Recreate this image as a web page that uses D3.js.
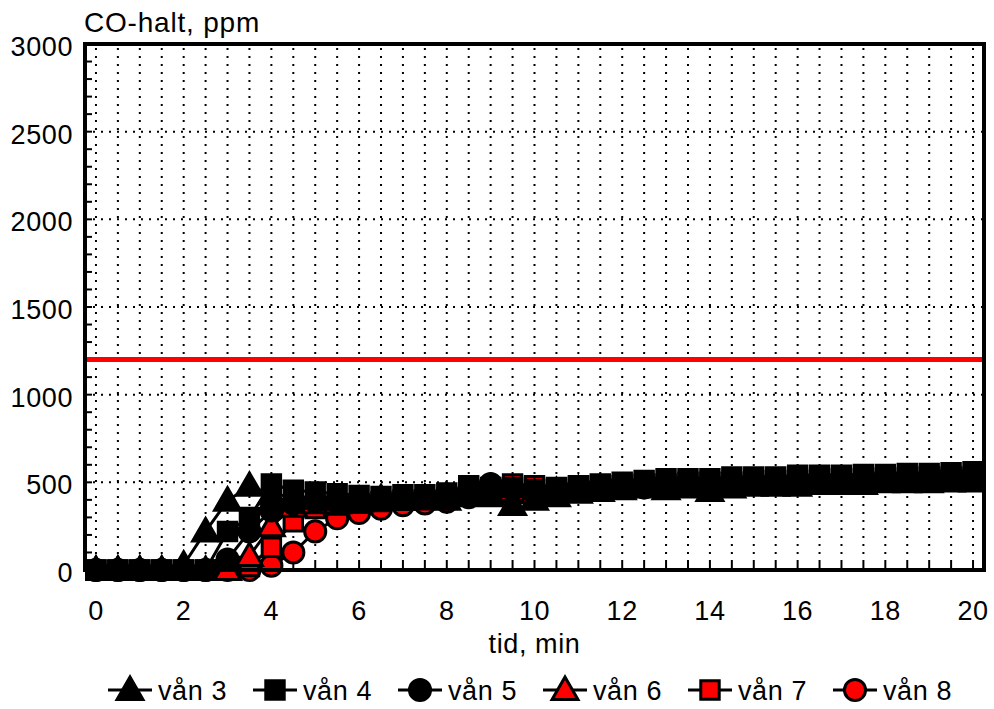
<!DOCTYPE html>
<html>
<head>
<meta charset="utf-8">
<script src="https://cdn.jsdelivr.net/npm/d3@7"></script>
<style>
  html, body { margin: 0; padding: 0; background: #fff; }
  svg { display: block; font-family: "Liberation Sans", Arial, sans-serif; }
</style>
</head>
<body>
<svg id="chart" width="994" height="709"></svg>
<script>
// Time axis, minutes (one sample every half minute)
const times = d3.range(0, 20.01, 0.5);

// CO concentration, ppm, per floor
const van3 = [0,0,0,0,30,220,395,480,430,420,410,400,400,410,400,410,400,430,420,370,400,420,440,450,460,470,460,470,450,470,480,480,480,490,490,490,500,500,500,505,505];
const van4 = [0,0,0,0,0,0,220,300,490,455,445,435,425,420,430,430,440,480,470,470,460,470,480,490,500,510,520,520,520,530,530,530,540,540,540,545,545,550,550,555,560];
const van5 = [0,0,0,0,0,0,60,220,340,380,390,390,400,400,410,420,430,450,490,460,450,460,470,480,490,490,500,500,490,500,510,510,510,520,520,520,530,530,530,540,540];
const van6 = [0,0,0,0,0,0,0,80,250,360,380,380,390,400,400,410,420,430,440,450,440,450,460,470,470,480,480,490,480,490,490,500,500,500,510,510,510,520,520,520,520];
const van7 = [0,0,0,0,0,0,0,20,130,275,350,370,380,390,400,400,410,420,440,490,480,460,470,480,480,490,490,500,500,500,510,510,510,520,520,520,525,525,530,530,530];
const van8 = [0,0,0,0,0,0,0,0,25,100,220,295,325,350,370,380,390,415,430,440,440,450,460,460,470,470,480,480,490,490,490,500,500,500,510,510,510,515,515,520,520];

const seriesNames = ["vån 3", "vån 4", "vån 5", "vån 6", "vån 7", "vån 8"];
const seriesValues = [van3, van4, van5, van6, van7, van8];
const seriesShapes = ["triangle", "square", "circle", "triangle", "square", "circle"];
const seriesFills = ["#000", "#000", "#000", "#ff0000", "#ff0000", "#ff0000"];

// Limit value line, ppm
const limitValue = 1200;

const yTicks = [0, 500, 1000, 1500, 2000, 2500, 3000];
const xTicks = [0, 2, 4, 6, 8, 10, 12, 14, 16, 18, 20];

const svg = d3.select("#chart");
const pLeft = 85, pRight = 984, pTop = 44, pBottom = 570;

const x = d3.scaleLinear().domain([-0.25, 20.25]).range([pLeft, pRight]);
const y = d3.scaleLinear().domain([0, 3000]).range([pBottom, pTop]);

// Markers are cut at the left and right edges of the plot frame
svg.append("defs").append("clipPath").attr("id", "plot-clip")
  .append("rect").attr("x", pLeft).attr("y", 0)
  .attr("width", pRight - pLeft).attr("height", 640);

// Dotted grid: vertical every half minute, horizontal every 500 ppm
const grid = svg.append("g");
grid.selectAll(".vg").data(d3.range(0, 20.01, 0.5)).join("line")
  .attr("x1", d => x(d)).attr("x2", d => x(d))
  .attr("y1", pTop + 4).attr("y2", pBottom)
  .attr("stroke", "#000").attr("stroke-width", 2)
  .attr("stroke-dasharray", "2,6");
grid.selectAll(".hg").data(yTicks.slice(1, -1)).join("line")
  .attr("x1", pLeft).attr("x2", pRight)
  .attr("y1", d => y(d)).attr("y2", d => y(d))
  .attr("stroke", "#000").attr("stroke-width", 2)
  .attr("stroke-dasharray", "2,6");

// Minor ticks
svg.append("g").selectAll("line").data(d3.range(100, 3000, 100)).join("line")
  .attr("x1", pLeft).attr("x2", pLeft + 7)
  .attr("y1", d => y(d)).attr("y2", d => y(d))
  .attr("stroke", "#000").attr("stroke-width", 2);
svg.append("g").selectAll("line").data(d3.range(0, 20.01, 0.5)).join("line")
  .attr("x1", d => x(d)).attr("x2", d => x(d))
  .attr("y1", pBottom).attr("y2", pBottom - 8)
  .attr("stroke", "#000").attr("stroke-width", 2);

// Limit line
svg.append("line")
  .attr("x1", pLeft).attr("x2", pRight)
  .attr("y1", y(limitValue)).attr("y2", y(limitValue))
  .attr("stroke", "#ff0000").attr("stroke-width", 5);

// Symbol generators
const symSize = { triangle: 290, square: 340, circle: 350 };
const symType = { triangle: d3.symbolTriangle, square: d3.symbolSquare, circle: d3.symbolCircle };
function symPath(shape) { return d3.symbol().type(symType[shape]).size(symSize[shape])(); }
function symOffset(shape) { return shape === "triangle" ? 2 : 0; }

const line = d3.line().x(d => x(d[0])).y(d => y(d[1]));

// Series, red floors underneath the black ones
const plot = svg.append("g").attr("clip-path", "url(#plot-clip)");
const order = [5, 4, 3, 2, 1, 0];
order.forEach(i => {
  const pts = times.map((t, k) => [t, seriesValues[i][k]]);
  plot.append("path").datum(pts)
    .attr("d", line).attr("fill", "none")
    .attr("stroke", "#000").attr("stroke-width", 3);
});
order.forEach(i => {
  const pts = times.map((t, k) => [t, seriesValues[i][k]]);
  plot.append("g").selectAll("path").data(pts).join("path")
    .attr("d", symPath(seriesShapes[i]))
    .attr("transform", d => `translate(${x(d[0])},${y(d[1]) + symOffset(seriesShapes[i])})`)
    .attr("fill", seriesFills[i])
    .attr("stroke", "#000").attr("stroke-width", 3)
    .attr("stroke-linejoin", "miter");
});

// Frame
svg.append("rect")
  .attr("x", pLeft).attr("y", pTop)
  .attr("width", pRight - pLeft).attr("height", pBottom - pTop)
  .attr("fill", "none").attr("stroke", "#000").attr("stroke-width", 4);

// Axis labels
const fs = 27;
svg.append("g").selectAll("text").data(yTicks).join("text")
  .attr("x", 73).attr("y", d => y(d) + 12)
  .attr("text-anchor", "end").attr("font-size", fs)
  .attr("letter-spacing", 0.6)
  .text(d => d);
svg.append("g").selectAll("text").data(xTicks).join("text")
  .attr("x", d => x(d)).attr("y", 620)
  .attr("text-anchor", "middle").attr("font-size", fs)
  .attr("letter-spacing", 0.6)
  .text(d => d);

svg.append("text").attr("x", 84).attr("y", 32)
  .attr("font-size", 28).attr("letter-spacing", 0.8).text("CO-halt, ppm");
svg.append("text").attr("x", x(10)).attr("y", 653)
  .attr("text-anchor", "middle").attr("font-size", fs)
  .attr("letter-spacing", 0.6).text("tid, min");

// Legend
const legend = svg.append("g");
seriesNames.forEach((name, i) => {
  const cx = 130 + i * 145, cy = 690;
  const g = legend.append("g");
  g.append("line").attr("x1", cx - 22).attr("x2", cx + 22)
    .attr("y1", cy).attr("y2", cy)
    .attr("stroke", "#000").attr("stroke-width", 3);
  g.append("path").attr("d", symPath(seriesShapes[i]))
    .attr("transform", `translate(${cx},${cy + symOffset(seriesShapes[i])})`)
    .attr("fill", seriesFills[i]).attr("stroke", "#000").attr("stroke-width", 3);
  g.append("text").attr("x", cx + 28).attr("y", cy + 10)
    .attr("font-size", fs).attr("letter-spacing", 0.6).text(name);
});
</script>
</body>
</html>
